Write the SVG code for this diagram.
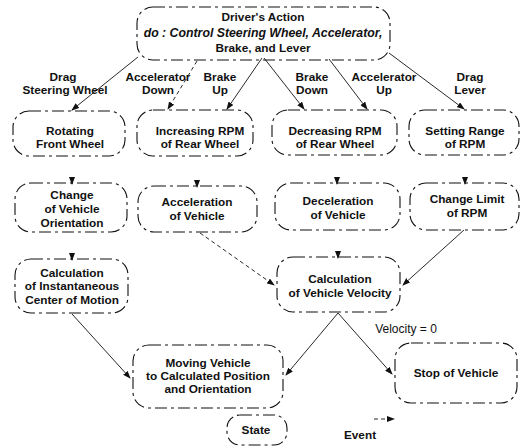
<svg xmlns="http://www.w3.org/2000/svg" width="524" height="447" viewBox="0 0 524 447">
<defs>
<marker id="ah" markerWidth="8" markerHeight="6" refX="7" refY="3" orient="auto" markerUnits="userSpaceOnUse"><path d="M0,0 L8,3 L0,6 z" fill="#111"/></marker>
</defs>
<style>
.box{fill:none;stroke:#111;stroke-width:1.1;stroke-dasharray:12 4 3 4}
.t{font-family:"Liberation Sans",Arial,sans-serif;font-size:11.8px;font-weight:bold;text-anchor:middle;fill:#111}
.i{font-style:italic;font-size:12.3px}
.r{font-weight:normal;font-size:12px}
.c{fill:none;stroke:#111;stroke-width:0.9;marker-end:url(#ah)}
.d{stroke-dasharray:4 3}
</style>
<rect width="524" height="447" fill="#fff"/>
<g id="connectors">
<path class="c" d="M138,57 L72,110"/>
<path class="c d" d="M197,61 L168,109"/>
<path class="c" d="M262,58 L227,109"/>
<path class="c" d="M264,58 L304,109"/>
<path class="c" d="M329,59 L367,109"/>
<path class="c" d="M389,53 L464,109"/>
<path class="c" d="M72,177 L72,184"/>
<path class="c" d="M197,180 L197,187"/>
<path class="c" d="M337,177 L337,184"/>
<path class="c" d="M465,177 L465,184"/>
<path class="c" d="M72,253 L72,260"/>
<path class="c" d="M338,251 L338,258"/>
<path class="c d" d="M200,233 L274,285"/>
<path class="c" d="M464,230 L403,285"/>
<path class="c" d="M72,314 L130,378"/>
<path class="c" d="M338,313 L286,375"/>
<path class="c" d="M338,313 L392,374"/>
<path class="c d" d="M374,419 L394,419"/>
</g>
<g id="labels">
<text class="t" x="63" y="81">Drag</text>
<text class="t" x="65" y="94">Steering Wheel</text>
<text class="t" x="158" y="81">Accelerator</text>
<text class="t" x="158" y="94">Down</text>
<text class="t" x="220" y="81">Brake</text>
<text class="t" x="220" y="94">Up</text>
<text class="t" x="312" y="81">Brake</text>
<text class="t" x="312" y="94">Down</text>
<text class="t" x="384" y="81">Accelerator</text>
<text class="t" x="384" y="94">Up</text>
<text class="t" x="470" y="81">Drag</text>
<text class="t" x="470" y="94">Lever</text>
<text class="t r" x="406" y="333">Velocity = 0</text>
</g>
<g id="drivers-action">
<rect class="box" x="137" y="7" width="253" height="53" rx="16"/>
<text class="t" x="263" y="21">Driver's Action</text>
<text class="t i" x="263" y="37">do : Control Steering Wheel, Accelerator,</text>
<text class="t" x="263" y="52">Brake, and Lever</text>
</g>
<g id="rotating-front-wheel">
<rect class="box" x="13" y="111" width="112" height="45" rx="16"/>
<text class="t" x="70" y="135">Rotating</text>
<text class="t" x="70" y="148">Front Wheel</text>
</g>
<g id="increasing-rpm">
<rect class="box" x="137" y="110" width="116" height="46" rx="16"/>
<text class="t" x="200" y="135">Increasing RPM</text>
<text class="t" x="200" y="148">of Rear Wheel</text>
</g>
<g id="decreasing-rpm">
<rect class="box" x="272" y="110" width="125" height="45" rx="16"/>
<text class="t" x="335" y="135">Decreasing RPM</text>
<text class="t" x="335" y="148">of Rear Wheel</text>
</g>
<g id="setting-range">
<rect class="box" x="409" y="110" width="110" height="45" rx="16"/>
<text class="t" x="465" y="135">Setting Range</text>
<text class="t" x="465" y="148">of RPM</text>
</g>
<g id="change-orientation">
<rect class="box" x="15" y="183" width="112" height="49" rx="16"/>
<text class="t" x="72" y="199">Change</text>
<text class="t" x="72" y="213">of Vehicle</text>
<text class="t" x="72" y="227">Orientation</text>
</g>
<g id="acceleration">
<rect class="box" x="138" y="186" width="119" height="46" rx="16"/>
<text class="t" x="197" y="206">Acceleration</text>
<text class="t" x="197" y="220">of Vehicle</text>
</g>
<g id="deceleration">
<rect class="box" x="275" y="183" width="125" height="47" rx="16"/>
<text class="t" x="338" y="205">Deceleration</text>
<text class="t" x="338" y="219">of Vehicle</text>
</g>
<g id="change-limit">
<rect class="box" x="410" y="183" width="109" height="47" rx="16"/>
<text class="t" x="467" y="203">Change Limit</text>
<text class="t" x="467" y="217">of RPM</text>
</g>
<g id="calc-center">
<rect class="box" x="15" y="259" width="113" height="54" rx="16"/>
<text class="t" x="72" y="277">Calculation</text>
<text class="t" x="72" y="290">of Instantaneous</text>
<text class="t" x="72" y="304">Center of Motion</text>
</g>
<g id="calc-velocity">
<rect class="box" x="277" y="257" width="123" height="55" rx="16"/>
<text class="t" x="340" y="283">Calculation</text>
<text class="t" x="340" y="297">of Vehicle Velocity</text>
</g>
<g id="moving-vehicle">
<rect class="box" x="133" y="345" width="150" height="63" rx="16"/>
<text class="t" x="208" y="367">Moving Vehicle</text>
<text class="t" x="208" y="380">to Calculated Position</text>
<text class="t" x="208" y="393">and Orientation</text>
</g>
<g id="stop-vehicle">
<rect class="box" x="395" y="343" width="122" height="60" rx="16"/>
<text class="t" x="456" y="377">Stop of Vehicle</text>
</g>
<g id="legend-state">
<rect class="box" x="227" y="415" width="60" height="30" rx="13"/>
<text class="t" x="256" y="434">State</text>
</g>
<g id="legend-event">
<text class="t" x="360" y="439">Event</text>
</g>
</svg>
